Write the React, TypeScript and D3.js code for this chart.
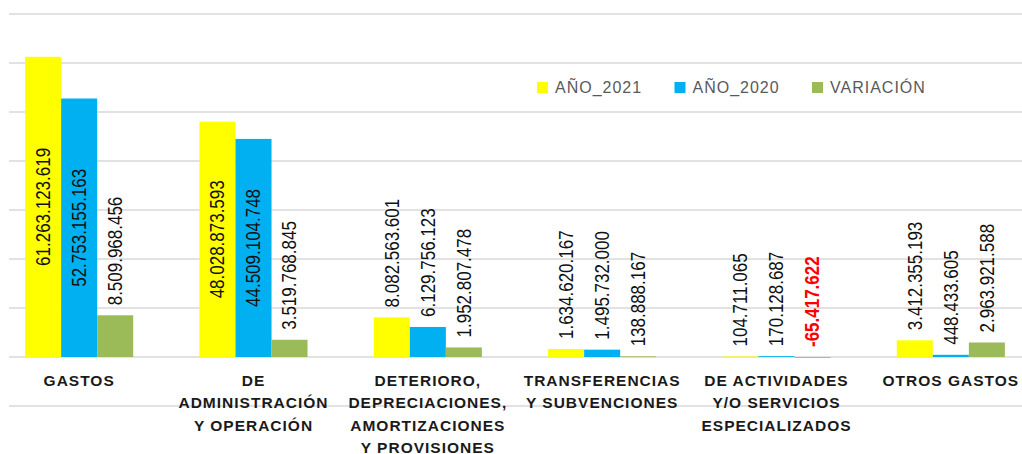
import React from "react";
import * as d3 from "d3";

const categories = [
  "GASTOS",
  "DE ADMINISTRACIÓN Y OPERACIÓN",
  "DETERIORO, DEPRECIACIONES, AMORTIZACIONES Y PROVISIONES",
  "TRANSFERENCIAS Y SUBVENCIONES",
  "DE ACTIVIDADES Y/O SERVICIOS ESPECIALIZADOS",
  "OTROS GASTOS",
];
const categoryLines = [
  ["GASTOS"],
  ["DE", "ADMINISTRACIÓN", "Y OPERACIÓN"],
  ["DETERIORO,", "DEPRECIACIONES,", "AMORTIZACIONES", "Y PROVISIONES"],
  ["TRANSFERENCIAS", "Y SUBVENCIONES"],
  ["DE ACTIVIDADES", "Y/O SERVICIOS", "ESPECIALIZADOS"],
  ["OTROS GASTOS"],
];
const seriesNames = ["AÑO_2021", "AÑO_2020", "VARIACIÓN"];
const seriesColors = ["#FFFF00", "#00B0F0", "#9BBB59"];
const ano2021 = [61263123619, 48028873593, 8082563601, 1634620167, 104711065, 3412355193];
const ano2020 = [52753155163, 44509104748, 6129756123, 1495732000, 170128687, 448433605];
const variacion = [8509968456, 3519768845, 1952807478, 138888167, -65417622, 2963921588];
const yTicks = [-10e9, 0, 10e9, 20e9, 30e9, 40e9, 50e9, 60e9, 70e9];

const W = 1022;
const H = 454;

const fmt = (v: number) => {
  const s = Math.abs(Math.round(v)).toString().replace(/\B(?=(\d{3})+(?!\d))/g, ".");
  return (v < 0 ? "-" : "") + s;
};

export default function App() {
  const series = [ano2021, ano2020, variacion];
  const y = d3.scaleLinear().domain([-10e9, 70e9]).range([406, 14]);
  const x = d3
    .scaleBand<string>()
    .domain(categories)
    .range([-8, 1038])
    .paddingInner(0.38)
    .paddingOuter(0.19);
  const xs = d3
    .scaleBand<string>()
    .domain(seriesNames)
    .range([0, x.bandwidth()])
    .padding(0);

  const labelFont = 17;
  const charW = (s: string) =>
    s.split("").reduce((a, c) => a + (c === "." ? 0.278 : 0.556), 0) * labelFont;

  return (
    <svg
      width={W}
      height={H}
      style={{ position: "absolute", left: 0, top: 0, background: "#fff" }}
      fontFamily="'Liberation Sans', Arial, sans-serif"
    >
      {yTicks.map((t) => (
        <line
          key={t}
          x1={9}
          x2={W}
          y1={y(t)}
          y2={y(t)}
          stroke="#D9D9D9"
          strokeWidth={1.5}
        />
      ))}
      {categories.map((c, i) => (
        <g key={c} transform={`translate(${x(c)},0)`}>
          {series.map((s, j) => {
            const v = s[i];
            const x0 = xs(seriesNames[j])!;
            const bw = xs.bandwidth();
            const top = y(Math.max(0, v));
            const bot = y(Math.min(0, v));
            const label = fmt(v);
            const len = charW(label);
            const barH = bot - top;
            const inside = v > 0 && barH > len + 20;
            const cx = x0 + bw / 2;
            const ly = inside ? (top + bot) / 2 : top - 10;
            return (
              <g key={j}>
                <rect x={x0} y={top} width={bw} height={Math.max(barH, 0.8)} fill={seriesColors[j]} />
                <text
                  transform={`translate(${cx},${ly}) rotate(-90) scale(1,1.15)`}
                  textAnchor={inside ? "middle" : "start"}
                  dy="0.35em"
                  fontSize={labelFont}
                  fill={v < 0 ? "#FF0000" : "#111"}
                  fontWeight={v < 0 ? "bold" : "normal"}
                >
                  {label}
                </text>
              </g>
            );
          })}
        </g>
      ))}
      {categories.map((c, i) => (
        <text
          key={c}
          x={x(c)! + x.bandwidth() / 2}
          y={386}
          textAnchor="middle"
          fontSize={15.5}
          fontWeight="bold"
          letterSpacing={1}
          fill="#1a1a1a"
        >
          {categoryLines[i].map((ln, k) => (
            <tspan key={k} x={x(c)! + x.bandwidth() / 2} dy={k === 0 ? 0 : 22.3}>
              {ln}
            </tspan>
          ))}
        </text>
      ))}
      {seriesNames.map((n, j) => (
        <g key={n} transform={`translate(${537 + j * 137.5},82)`}>
          <rect x={0} y={0} width={11} height={11} fill={seriesColors[j]} />
          <text x={18} y={11} fontSize={16} letterSpacing={1} fill="#595959">
            {n}
          </text>
        </g>
      ))}
    </svg>
  );
}
